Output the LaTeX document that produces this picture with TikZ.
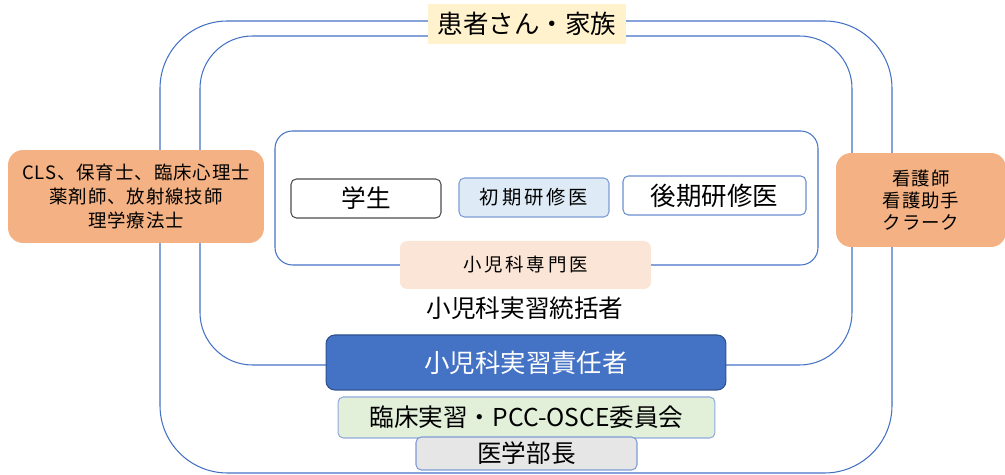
\documentclass[tikz,border=0pt]{standalone}
\usepackage{fontspec}
\setmainfont{Noto Sans CJK JP}
\newfontfamily\jpspaced[LetterSpace=15]{Noto Sans CJK JP}
\newfontfamily\jploose[LetterSpace=5]{Noto Sans CJK JP}
\definecolor{frameblue}{HTML}{4472C4}
\definecolor{familyfill}{HTML}{FFF2CC}
\definecolor{staffo}{HTML}{F4B183}
\definecolor{juniorfill}{HTML}{DEEBF7}
\definecolor{specfill}{HTML}{FBE5D6}
\definecolor{chiefline}{HTML}{2F528F}
\definecolor{commfill}{HTML}{E2F0D9}
\definecolor{deanfill}{HTML}{E7E6E6}
\tikzset{
	frame/.style={draw=frameblue, line width=0.6pt},
	box/.style={rounded corners=3pt, inner sep=0pt, align=center, line width=0.6pt},
	staffbox/.style={box, fill=staffo, rounded corners=0.3cm},
	big/.style={font=\fontsize{14}{16}\selectfont},
	small/.style={font=\jpspaced\fontsize{10.5}{13.6}\selectfont},
	stafftext/.style={font=\jploose\fontsize{10.5}{13.6}\selectfont},
}

\begin{document}
\begin{tikzpicture}[x=0.02cm, y=-0.02cm]
	\useasboundingbox (0,0) rectangle (1005,475);
	%%%%% frames %%%%%
	\draw[frame, rounded corners=1.35cm] (160,21) rectangle (892,473);
	\draw[frame, rounded corners=1.05cm] (200,36) rectangle (852,365);
	\draw[frame, rounded corners=0.35cm] (275,131) rectangle (818,265);
	
	%%%%% family on top %%%%%
	\node[box, fill=familyfill, rounded corners=0pt, minimum width=3.96cm, minimum height=0.8cm,
		font=\fontsize{14.5}{16}\selectfont] (family) at (527,24) {患者さん・家族};
	
	%%%%% other staff %%%%%
	\node[staffbox, stafftext, minimum width=5.12cm, minimum height=1.86cm] (comed) at (136,196.5)
		{CLS、保育士、臨床心理士\\薬剤師、放射線技師\\理学療法士};
	\node[staffbox, minimum width=3.4cm, minimum height=1.88cm,
		font=\jploose\fontsize{10.5}{12.5}\selectfont] (nurse) at (921,200)
		{看護師\\看護助手\\クラーク};
	
	%%%%% learners %%%%%
	\node[box, big, draw=black!70, minimum width=3cm, minimum height=0.78cm] (student) at (366,198.5) {学生};
	\node[box, draw=frameblue!70, fill=juniorfill, minimum width=3cm, minimum height=0.78cm,
		font=\jpspaced\fontsize{11}{13}\selectfont] (junior) at (534,197.5) {初期研修医};
	\node[box, draw=frameblue!80, minimum width=3.66cm, minimum height=0.78cm,
		font=\fontsize{14.5}{16}\selectfont] (senior) at (714.5,195.5) {後期研修医};
	\node[box, small, fill=specfill, rounded corners=4pt, minimum width=5.02cm, minimum height=0.96cm] (spec) at (525.5,265) {小児科専門医};
	
	\node[big] (coord) at (525,308) {小児科実習統括者};
	
	%%%%% responsibility %%%%%
	\node[box, draw=chiefline, fill=frameblue, text=white, rounded corners=5pt,
		minimum width=8cm, minimum height=1.1cm, font=\fontsize{14.5}{16}\selectfont] (chief) at (526,362.5) {小児科実習責任者};
	\node[box, big, draw=frameblue!60, fill=commfill, minimum width=7.54cm, minimum height=0.82cm] (comm) at (526.5,417.5) {臨床実習・PCC-OSCE委員会};
	\node[box, big, draw=frameblue!70, fill=deanfill, minimum width=4.42cm, minimum height=0.66cm] (dean) at (526.5,453.5) {医学部長};
\end{tikzpicture}
\end{document}
